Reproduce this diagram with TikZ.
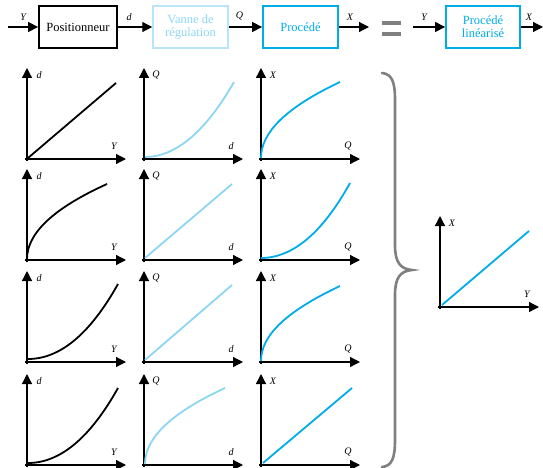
\documentclass[tikz,border=0pt]{standalone}
\usepackage{fontspec}
\setmainfont{Liberation Serif}
\usetikzlibrary{arrows.meta}
\definecolor{lblue}{RGB}{140,214,244}
\definecolor{lbox}{RGB}{184,230,248}
\definecolor{cyanb}{RGB}{0,172,232}
\definecolor{brgray}{RGB}{128,128,128}
\tikzset{
  tip/.style={-{Triangle[length=10pt,width=10pt]}},
  axis/.style={line width=1.3pt,-{Triangle[length=10pt,width=10pt]}},
  lab/.style={font=\fontsize{10}{12}\selectfont\itshape,inner sep=0pt},
  blkc/.style={line width=1.8pt,black},
  lbc/.style={line width=1.8pt,lblue},
  cyc/.style={line width=1.8pt,cyanb},
  box/.style={draw,minimum width=76pt,minimum height=42pt,inner sep=1pt,
    font=\fontsize{12.5}{13}\selectfont,align=center},
  sig/.style={line width=1.2pt},
  pics/graph/.style 2 args={code={
    \draw[axis] (0,2) -- (0,-91);
    \draw[axis] (-2,0) -- (99,0);
    \node[lab] at (12,-84) {#1};
    \node[lab] at (87,-13) {#2};
  }}
}
\begin{document}
\begin{tikzpicture}[x=1pt,y=-1pt]
\useasboundingbox (0,0) rectangle (543,468);
% top chain
\node[box,line width=1.8pt,minimum width=78pt] (pos) at (78,27) {Positionneur};
\node[box,draw=lbox,text=lblue,line width=1.5pt,minimum width=75pt] (van) at (190.5,27) {Vanne de\\r\'egulation};
\node[box,draw=cyanb,text=cyanb,line width=1.8pt,minimum width=75pt] (proc) at (300.5,27) {Proc\'ed\'e};
\node[box,draw=cyanb,text=cyanb,line width=1.8pt,minimum width=74pt] (plin) at (483,27) {Proc\'ed\'e\\lin\'earis\'e};
\coordinate (yin) at (8,27);
\coordinate (xout) at (369,27);
\coordinate (yin2) at (413,27);
\coordinate (xout2) at (543,27);
\draw[sig,tip] (yin) -- node[lab,above=6pt] {Y} (pos);
\draw[sig,tip] (pos) -- node[lab,above=6pt,xshift=-6pt] {d} (van);
\draw[sig,tip] (van) -- node[lab,above=6pt,xshift=-6pt] {Q} (proc);
\draw[sig,tip] (proc) -- node[lab,above=6pt,xshift=-4pt] {X} (xout);
\draw[sig,tip] (yin2) -- node[lab,above=6pt,xshift=-5pt] {Y} (plin);
\draw[sig,tip] (plin) -- node[lab,above=6pt,xshift=-3pt] {X} (xout2);
% equal sign
\draw[brgray,line width=4pt] (382,23.5) -- (401,23.5) (382,34.5) -- (401,34.5);
% graphs: columns 27,144,261 ; rows 159,260,362,465
% row 1
\pic at (27,159) {graph={d}{Y}};
\pic at (144,159) {graph={Q}{d}};
\pic at (261,159) {graph={X}{Q}};
\begin{scope}[shift={(27,159)}]
  \draw[blkc] (1,-1) -- (89,-76);
\end{scope}
\begin{scope}[shift={(144,159)}]
  \draw[lbc] (1,-2) .. controls (32,-2) and (62,-28) .. (90,-77);
\end{scope}
\begin{scope}[shift={(261,159)}]
  \draw[cyc] (0,-1) .. controls (0,-27) and (26,-52) .. (79,-77);
\end{scope}
% row 2
\pic at (27,260) {graph={d}{Y}};
\pic at (144,260) {graph={Q}{d}};
\pic at (261,260) {graph={X}{Q}};
\begin{scope}[shift={(27,260)}]
  \draw[blkc] (0,-1) .. controls (0,-27) and (27,-52) .. (80,-76);
\end{scope}
\begin{scope}[shift={(144,260)}]
  \draw[lbc] (1,-2) -- (88,-76);
\end{scope}
\begin{scope}[shift={(261,260)}]
  \draw[cyc] (0,-2) .. controls (32,-2) and (62,-28) .. (89,-77);
\end{scope}
% row 3
\pic at (27,362) {graph={d}{Y}};
\pic at (144,362) {graph={Q}{d}};
\pic at (261,362) {graph={X}{Q}};
\begin{scope}[shift={(27,362)}]
  \draw[blkc] (1,-3) .. controls (33,-3) and (63,-28) .. (91,-78);
\end{scope}
\begin{scope}[shift={(144,362)}]
  \draw[lbc] (1,-2) -- (88,-77);
\end{scope}
\begin{scope}[shift={(261,362)}]
  \draw[cyc] (0,-1) .. controls (0,-27) and (26,-51) .. (79,-76);
\end{scope}
% row 4
\pic at (27,465) {graph={d}{Y}};
\pic at (144,465) {graph={Q}{d}};
\pic at (261,465) {graph={X}{Q}};
\begin{scope}[shift={(27,465)}]
  \draw[blkc] (1,-2) .. controls (33,-2) and (63,-27) .. (91,-77);
\end{scope}
\begin{scope}[shift={(144,465)}]
  \draw[lbc] (1,-1) .. controls (1,-27) and (27,-52) .. (81,-77);
\end{scope}
\begin{scope}[shift={(261,465)}]
  \draw[cyc] (2,-2) -- (91,-77);
\end{scope}
% brace
\draw[brgray,line width=2.6pt,line cap=round]
  (382,73) .. controls (392,74) and (395,82) .. (395,100) -- (395,245)
  .. controls (395,262) and (400,269) .. (412,270)
  .. controls (400,271) and (395,278) .. (395,295) -- (395,440)
  .. controls (395,458) and (392,466) .. (382,467);
% linearised graph
\pic at (440,307) {graph={X}{Y}};
\begin{scope}[shift={(440,307)}]
  \draw[cyc] (2,-2) -- (89,-76);
\end{scope}
\end{tikzpicture}
\end{document}
